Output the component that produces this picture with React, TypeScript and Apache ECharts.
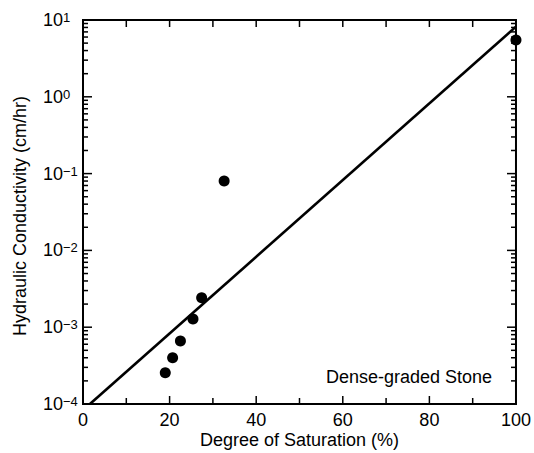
import React, { useEffect, useRef } from "react";
import * as echarts from "echarts";

// Measured points: degree of saturation (%) vs hydraulic conductivity (cm/hr)
const saturation = [19.0, 20.7, 22.5, 25.4, 27.4, 32.6, 100];
const conductivity = [2.56e-4, 4.0e-4, 6.6e-4, 1.28e-3, 2.42e-3, 0.08, 5.5];

// Fitted straight line (on log scale)
const fitSaturation = [1.6, 100];
const fitConductivity = [1e-4, 8.2];

// Axis settings
const xMin = 0;
const xMax = 100;
const yMin = 1e-4;
const yMax = 10;
const xMajorTicks = [20, 40, 60, 80];
const xMinorTicks = [10, 30, 50, 70, 90];
const decadeExponents = [-4, -3, -2, -1, 0, 1];
const minorMultipliers = [2, 3, 4, 5, 6, 7, 8, 9];

const annotation = "Dense-graded Stone";
const xName = "Degree of Saturation (%)";
const yName = "Hydraulic Conductivity (cm/hr)";

const FONT = "Liberation Sans, Arial, Helvetica, sans-serif";

export default function App() {
  const ref = useRef<HTMLDivElement>(null);

  useEffect(() => {
    if (!ref.current) return;
    const chart = echarts.init(ref.current, null, { renderer: "svg" });

    const yTicks: number[][] = [];
    decadeExponents.forEach((e) => {
      const base = Math.pow(10, e);
      if (base > yMin * 1.01 && base < yMax * 0.99) yTicks.push([xMin, base, 9]);
      if (e < 1) minorMultipliers.forEach((m) => yTicks.push([xMin, m * base, 5]));
    });
    const xTicks: number[][] = [];
    xMajorTicks.forEach((x) => xTicks.push([x, yMin, 8]));
    xMinorTicks.forEach((x) => xTicks.push([x, yMin, 6]));

    const supLabel = (v: number) => {
      const e = Math.round(Math.log10(v));
      const s = e < 0 ? "\u2212" + -e : String(e);
      return `{b|10}{s|${s}}`;
    };

    const axisLineStyle = { show: true, lineStyle: { color: "#000", width: 2 } };
    const textStyle = (text: string, align: string) => ({
      text,
      fontSize: 18,
      fontFamily: FONT,
      fill: "#000",
      align,
      verticalAlign: "middle",
    });

    const option: any = {
      animation: false,
      backgroundColor: "#fff",
      grid: { left: 83, right: 15, top: 20, bottom: 49, show: true, borderColor: "#000", borderWidth: 2 },
      xAxis: {
        type: "value",
        min: xMin,
        max: xMax,
        interval: 20,
        axisLine: axisLineStyle,
        axisTick: { show: false },
        axisLabel: { fontSize: 18, color: "#000", margin: 7, fontFamily: FONT },
        splitLine: { show: false },
      },
      yAxis: {
        type: "log",
        min: yMin,
        max: yMax,
        axisLine: axisLineStyle,
        axisTick: { show: false },
        axisLabel: {
          margin: 40,
          align: "left",
          formatter: supLabel,
          rich: {
            b: { fontSize: 18, color: "#000", fontFamily: FONT, lineHeight: 18, padding: [8, 0, 8, 0] },
            s: { fontSize: 13, color: "#000", fontFamily: FONT, lineHeight: 14, verticalAlign: "top" },
          },
        },
        splitLine: { show: false },
      },
      series: [
        {
          // y-axis ticks, left and right
          type: "custom",
          clip: false,
          dimensions: ["x", "y", "len"],
          encode: { x: 0, y: 1 },
          data: yTicks,
          renderItem: (params: any, api: any) => {
            const v = api.value(1);
            const len = api.value(2);
            const l = api.coord([xMin, v]);
            const r = api.coord([xMax, v]);
            return {
              type: "group",
              children: [
                { type: "line", shape: { x1: l[0], y1: l[1], x2: l[0] + len, y2: l[1] }, style: { stroke: "#000", lineWidth: 1.5 } },
                { type: "line", shape: { x1: r[0] - len, y1: r[1], x2: r[0], y2: r[1] }, style: { stroke: "#000", lineWidth: 1.5 } },
              ],
            };
          },
        },
        {
          // x-axis ticks, bottom and top
          type: "custom",
          clip: false,
          dimensions: ["x", "y", "len"],
          encode: { x: 0, y: 1 },
          data: xTicks,
          renderItem: (params: any, api: any) => {
            const x = api.value(0);
            const len = api.value(2);
            const b = api.coord([x, yMin]);
            const t = api.coord([x, yMax]);
            return {
              type: "group",
              children: [
                { type: "line", shape: { x1: b[0], y1: b[1], x2: b[0], y2: b[1] - len }, style: { stroke: "#000", lineWidth: 1.5 } },
                { type: "line", shape: { x1: t[0], y1: t[1], x2: t[0], y2: t[1] + 7 }, style: { stroke: "#000", lineWidth: 1.5 } },
              ],
            };
          },
        },
        {
          // axis titles and annotation, placed relative to the plot area
          type: "custom",
          clip: false,
          encode: { x: 0, y: 1 },
          data: [[xMin, yMin]],
          renderItem: (params: any, api: any) => {
            const bl = api.coord([xMin, yMin]);
            const tr = api.coord([xMax, yMax]);
            const midX = (bl[0] + tr[0]) / 2;
            const midY = (bl[1] + tr[1]) / 2;
            return {
              type: "group",
              children: [
                { type: "text", x: midX, y: bl[1] + 36, style: textStyle(xName, "center") },
                { type: "text", x: 20, y: midY + 4, rotation: Math.PI / 2, style: textStyle(yName, "center") },
                { type: "text", x: tr[0] - 190, y: bl[1] - 27, style: textStyle(annotation, "left") },
              ],
            };
          },
        },
        {
          type: "line",
          data: fitSaturation.map((x, i) => [x, fitConductivity[i]]),
          symbol: "none",
          lineStyle: { color: "#000", width: 2.6 },
        },
        {
          type: "scatter",
          data: saturation.map((x, i) => [x, conductivity[i]]),
          symbolSize: 11,
          itemStyle: { color: "#000", opacity: 1 },
        },
      ],
    };

    chart.setOption(option);
    return () => chart.dispose();
  }, []);

  return <div ref={ref} style={{ position: "absolute", left: 0, top: 0, width: 534, height: 453 }} />;
}
